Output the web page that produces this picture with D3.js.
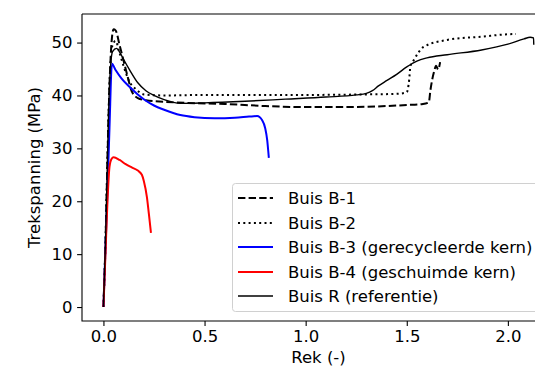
<!DOCTYPE html>
<html><head><meta charset="utf-8">
<script src="https://cdn.jsdelivr.net/npm/d3@7"></script>
<style>body{margin:0;background:#fff;overflow:hidden}svg{display:block}text{font-family:"DejaVu Sans",sans-serif}</style>
</head><body><svg id="c" width="535" height="367"></svg>
<script>
const xTicks = [0, 0.5, 1.0, 1.5, 2.0];
const xTickLabels = ["0.0", "0.5", "1.0", "1.5", "2.0"];
const yTicks = [0, 10, 20, 30, 40, 50];
const xLabel = "Rek (-)";
const yLabel = "Trekspanning (MPa)";

const seriesNames = ["Buis B-1", "Buis B-2", "Buis B-3 (gerecycleerde kern)", "Buis B-4 (geschuimde kern)", "Buis R (referentie)"];

const b1X = [0, 0.01, 0.02, 0.03, 0.04, 0.05, 0.06, 0.08, 0.10, 0.12, 0.14, 0.17, 0.21, 0.30, 0.40, 0.60, 0.80, 1.00, 1.20, 1.40, 1.50, 1.58, 1.609, 1.617, 1.635, 1.645, 1.655, 1.665];
const b1Y = [0, 12, 28, 42, 50, 52.5, 52.3, 49.5, 46.5, 43.5, 40.8, 39.5, 39.1, 38.8, 38.6, 38.4, 38.0, 37.8, 37.8, 38.0, 38.2, 38.4, 38.7, 41.0, 44.5, 45.6, 44.9, 46.3];

const b2X = [0, 0.01, 0.02, 0.03, 0.045, 0.06, 0.08, 0.10, 0.13, 0.16, 0.20, 0.30, 0.50, 0.80, 1.00, 1.30, 1.45, 1.50, 1.512, 1.518, 1.535, 1.584, 1.70, 1.865, 2.03, 2.04];
const b2Y = [0, 12, 28, 42, 49.5, 50.3, 48, 45.5, 42.5, 41.2, 40.2, 40.0, 40.1, 40.1, 40.1, 40.2, 40.3, 40.6, 43.0, 45.5, 46.7, 49.2, 50.5, 51.1, 51.6, 51.6];

const b3X = [0, 0.01, 0.02, 0.03, 0.042, 0.06, 0.09, 0.13, 0.17, 0.21, 0.25, 0.30, 0.38, 0.45, 0.55, 0.65, 0.72, 0.76, 0.785, 0.80, 0.81, 0.815, 0.818];
const b3Y = [0, 11, 22, 34, 46.0, 44.8, 43.2, 41.6, 40.2, 39.0, 38.1, 37.3, 36.3, 35.9, 35.7, 35.8, 36.0, 36.1, 35.3, 33.8, 31.5, 29.5, 28.2];

const b4X = [0, 0.01, 0.02, 0.03, 0.04, 0.05, 0.08, 0.11, 0.14, 0.17, 0.19, 0.20, 0.215, 0.225, 0.235];
const b4Y = [0, 10, 20, 26.5, 28.0, 28.3, 27.8, 27.0, 26.4, 25.8, 25.0, 23.8, 20.8, 17.5, 14.0];

const rX = [0, 0.01, 0.02, 0.03, 0.045, 0.065, 0.08, 0.10, 0.13, 0.17, 0.21, 0.25, 0.30, 0.38, 0.50, 0.70, 0.90, 1.10, 1.25, 1.30, 1.33, 1.36, 1.40, 1.45, 1.50, 1.55, 1.60, 1.70, 1.87, 2.00, 2.08, 2.11, 2.127, 2.128];
const rY = [0, 12, 28, 42, 48.3, 48.9, 48.2, 46.8, 44.8, 42.4, 40.9, 40.0, 39.2, 38.5, 38.6, 38.9, 39.3, 39.7, 40.1, 40.4, 40.9, 41.8, 42.8, 44.0, 45.4, 46.5, 47.1, 47.7, 48.6, 49.7, 50.7, 51.0, 50.9, 49.6];

const mLeft = 82, mTop = 14, mBottom = 321, mRight = 555;
const fs = "16.5px";
const svg = d3.select("#c");
const x = d3.scaleLinear().domain([-0.106, 2.233]).range([mLeft, mRight]);
const y = d3.scaleLinear().domain([-2.64, 55.4]).range([mBottom, mTop]);

svg.append("clipPath").attr("id", "clip").append("rect")
  .attr("x", mLeft).attr("y", mTop).attr("width", mRight - mLeft).attr("height", mBottom - mTop);

const series = [
  {xs: b1X, ys: b1Y, color: "#000", w: 2, dash: "7.4,3.2"},
  {xs: b2X, ys: b2Y, color: "#000", w: 2, dash: "2,3.3"},
  {xs: b3X, ys: b3Y, color: "#0000ff", w: 2, dash: null},
  {xs: b4X, ys: b4Y, color: "#ff0000", w: 2, dash: null},
  {xs: rX, ys: rY, color: "#000", w: 1.4, dash: null}
];

const line = d3.line().x(d => x(d[0])).y(d => y(d[1])).curve(d3.curveMonotoneX);
const g = svg.append("g").attr("clip-path", "url(#clip)");
series.forEach(s => {
  const pts = s.xs.map((v, i) => [v, s.ys[i]]);
  g.append("path").attr("d", line(pts)).attr("fill", "none")
    .attr("stroke", s.color).attr("stroke-width", s.w)
    .attr("stroke-dasharray", s.dash).attr("stroke-linejoin", "round");
});

const xAxis = d3.axisBottom(x).tickValues(xTicks).tickFormat((d, i) => xTickLabels[i]).tickSize(4.9).tickPadding(4.5);
const yAxis = d3.axisLeft(y).tickValues(yTicks).tickSize(4.9).tickPadding(4.5);
const gx = svg.append("g").attr("transform", `translate(0,${mBottom})`).call(xAxis);
const gy = svg.append("g").attr("transform", `translate(${mLeft},0)`).call(yAxis);
[gx, gy].forEach(a => {
  a.select(".domain").remove();
  a.selectAll("line").attr("stroke", "#000").attr("stroke-width", 1.1);
  a.selectAll("text").attr("font-size", fs).attr("fill", "#000").attr("font-family", "DejaVu Sans");
});
svg.append("path").attr("d", `M${mLeft},${mTop}V${mBottom}H${mRight}M${mLeft},${mTop}H${mRight}`)
  .attr("fill", "none").attr("stroke", "#000").attr("stroke-width", 1.1);

svg.append("text").attr("x", (mLeft + mRight) / 2).attr("y", 363).attr("text-anchor", "middle")
  .attr("font-size", fs).text(xLabel);
svg.append("text").attr("transform", `translate(40,${(mTop + mBottom) / 2}) rotate(-90)`)
  .attr("text-anchor", "middle").attr("font-size", fs).text(yLabel);

const lg = svg.append("g");
lg.append("rect").attr("x", 232.5).attr("y", 183.5).attr("width", 340).attr("height", 128).attr("rx", 3)
  .attr("fill", "#fff").attr("fill-opacity", 0.8).attr("stroke", "#d0d0d0").attr("stroke-width", 1);
const rowY = [198, 223, 247, 272, 296];
series.forEach((s, i) => {
  lg.append("line").attr("x1", 238).attr("x2", 273).attr("y1", rowY[i]).attr("y2", rowY[i])
    .attr("stroke", s.color).attr("stroke-width", s.w).attr("stroke-dasharray", s.dash);
  lg.append("text").attr("x", 288).attr("y", rowY[i] + 6).attr("font-size", fs).text(seriesNames[i]);
});
</script></body></html>
